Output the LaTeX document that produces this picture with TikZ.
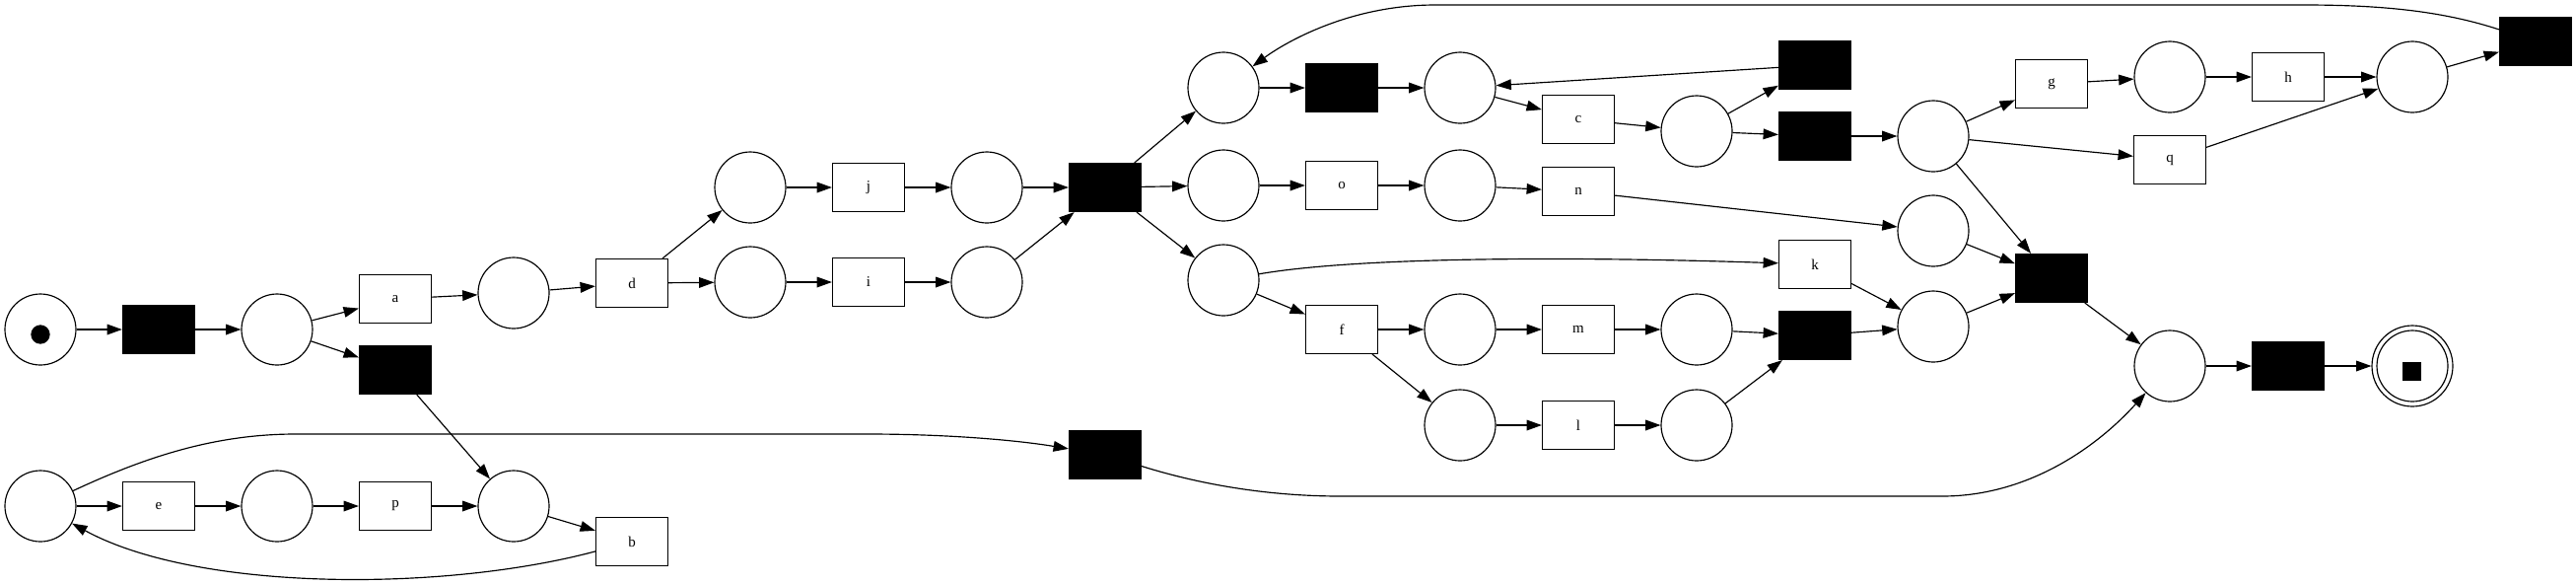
\documentclass[tikz,border=0pt]{standalone}
\usepackage{fontspec}
\setmainfont{Liberation Serif}
\usetikzlibrary{arrows.meta}
\begin{document}
\begin{tikzpicture}[x=0.3pt,y=-0.3pt,
  place/.style={draw, circle, minimum size=21.6pt, inner sep=0pt, line width=0.35pt},
  trans/.style={draw, rectangle, minimum width=21.9pt, minimum height=14.7pt, inner sep=0pt, line width=0.35pt, font=\fontsize{4.5}{5}\selectfont},
  silent/.style={trans, fill=black},
  arc/.style={-{Triangle[length=4.6pt,width=3.2pt]}, line width=0.35pt},
]
\useasboundingbox (0,0) rectangle (2613,592);
% left part
\node[place] (p0) at (41,334) {};
\node[circle, fill=black, minimum size=5.8pt, inner sep=0pt] (tok) at (41,339) {};
\node[silent] (t1) at (161,334) {};
\node[place] (p1) at (281,334) {};
\node[trans] (a) at (401,303) {a};
\node[silent] (tau2) at (401,375) {};
\node[place] (p2) at (521,297) {};
\node[trans] (d) at (641,287) {d};
\node[place] (pu) at (761,190) {};
\node[trans] (j) at (881,190) {j};
\node[place] (pj) at (1001,190) {};
\node[place] (pli) at (761,286) {};
\node[trans] (i) at (881,286) {i};
\node[place] (pi) at (1001,286) {};
\node[silent] (fork) at (1121,190) {};
% bottom loop
\node[place] (pl) at (41,513) {};
\node[trans] (e) at (161,513) {e};
\node[place] (pe) at (281,513) {};
\node[trans] (p) at (401,513) {p};
\node[place] (pp) at (521,513) {};
\node[trans] (b) at (641,549) {b};
\node[silent] (tskip) at (1121,461) {};
% upper middle
\node[place] (pt) at (1241,89) {};
\node[silent] (ttop) at (1361,89) {};
\node[place] (pc) at (1481,89) {};
\node[trans] (c) at (1601,121) {c};
\node[place] (pac) at (1721,133) {};
\node[silent] (tback) at (1841,66) {};
\node[silent] (tfwd) at (1841,138) {};
\node[place] (pg) at (1961,138) {};
\node[trans] (g) at (2081,85) {g};
\node[place] (ph) at (2201,78) {};
\node[trans] (h) at (2321,78) {h};
\node[place] (pel) at (2447,78) {};
\node[silent] (tloop) at (2572,42) {};
\node[trans] (q) at (2201,162) {q};
% middle
\node[place] (po) at (1241,188) {};
\node[trans] (o) at (1361,188) {o};
\node[place] (pn) at (1481,188) {};
\node[trans] (n) at (1601,194) {n};
\node[place] (pnr) at (1961,234) {};
% lower middle
\node[place] (plow) at (1241,284) {};
\node[trans] (k) at (1841,268) {k};
\node[trans] (f) at (1361,334) {f};
\node[place] (pf1) at (1481,334) {};
\node[trans] (m) at (1601,334) {m};
\node[place] (pm) at (1721,334) {};
\node[silent] (tml) at (1841,340) {};
\node[place] (pf2) at (1481,431) {};
\node[trans] (l) at (1601,431) {l};
\node[place] (plp) at (1721,431) {};
\node[place] (pk) at (1961,331) {};
\node[silent] (tjoin) at (2081,282) {};
\node[place] (pfin) at (2201,371) {};
\node[silent] (tend) at (2321,371) {};
\node[place] (pend) at (2447,371) {};
\node[circle, draw, minimum size=24.6pt, inner sep=0pt, line width=0.35pt] (pendo) at (2447,371) {};
\node[fill=black, minimum size=5.7pt, inner sep=0pt] (endtok) at (2446,376) {};
% arcs
\draw[arc] (p0) -- (t1);
\draw[arc] (t1) -- (p1);
\draw[arc] (p1) -- (a);
\draw[arc] (p1) -- (tau2);
\draw[arc] (a) -- (p2);
\draw[arc] (p2) -- (d);
\draw[arc] (d) -- (pu);
\draw[arc] (d) -- (pli);
\draw[arc] (pu) -- (j);
\draw[arc] (j) -- (pj);
\draw[arc] (pj) -- (fork);
\draw[arc] (pli) -- (i);
\draw[arc] (i) -- (pi);
\draw[arc] (pi) -- (fork);
\draw[arc] (fork) -- (pt);
\draw[arc] (fork) -- (po);
\draw[arc] (fork) -- (plow);
\draw[arc] (pt) -- (ttop);
\draw[arc] (ttop) -- (pc);
\draw[arc] (pc) -- (c);
\draw[arc] (c) -- (pac);
\draw[arc] (pac) -- (tback);
\draw[arc] (tback) -- (pc);
\draw[arc] (pac) -- (tfwd);
\draw[arc] (tfwd) -- (pg);
\draw[arc] (pg) -- (g);
\draw[arc] (pg) -- (q);
\draw[arc] (pg) -- (tjoin);
\draw[arc] (g) -- (ph);
\draw[arc] (ph) -- (h);
\draw[arc] (h) -- (pel);
\draw[arc] (q) -- (pel);
\draw[arc] (pel) -- (tloop);
\draw[arc] (tloop) .. controls (2480,12) and (2420,5) .. (2337,5) -- (1456,5) .. controls (1370,5) and (1305,42) .. (pt);
\draw[arc] (po) -- (o);
\draw[arc] (o) -- (pn);
\draw[arc] (pn) -- (n);
\draw[arc] (n) -- (pnr);
\draw[arc] (pnr) -- (tjoin);
\draw[arc] (plow) .. controls (1380,260) and (1600,260) .. (k);
\draw[arc] (k) -- (pk);
\draw[arc] (plow) -- (f);
\draw[arc] (f) -- (pf1);
\draw[arc] (pf1) -- (m);
\draw[arc] (m) -- (pm);
\draw[arc] (pm) -- (tml);
\draw[arc] (f) -- (pf2);
\draw[arc] (pf2) -- (l);
\draw[arc] (l) -- (plp);
\draw[arc] (plp) -- (tml);
\draw[arc] (tml) -- (pk);
\draw[arc] (pk) -- (tjoin);
\draw[arc] (tjoin) -- (pfin);
\draw[arc] (pfin) -- (tend);
\draw[arc] (tend) -- (pendo);
\draw[arc] (pl) -- (e);
\draw[arc] (e) -- (pe);
\draw[arc] (pe) -- (p);
\draw[arc] (p) -- (pp);
\draw[arc] (tau2) -- (pp);
\draw[arc] (pp) -- (b);
\draw[arc] (b) .. controls (450,600) and (200,600) .. (pl);
\draw[arc] (pl) .. controls (150,462) and (220,440) .. (300,440) -- (880,440) .. controls (960,440) and (1030,446) .. (tskip);
\draw[arc] (tskip) .. controls (1230,495) and (1300,503) .. (1360,503) -- (1970,503) .. controls (2060,503) and (2130,450) .. (pfin);
\end{tikzpicture}
\end{document}
